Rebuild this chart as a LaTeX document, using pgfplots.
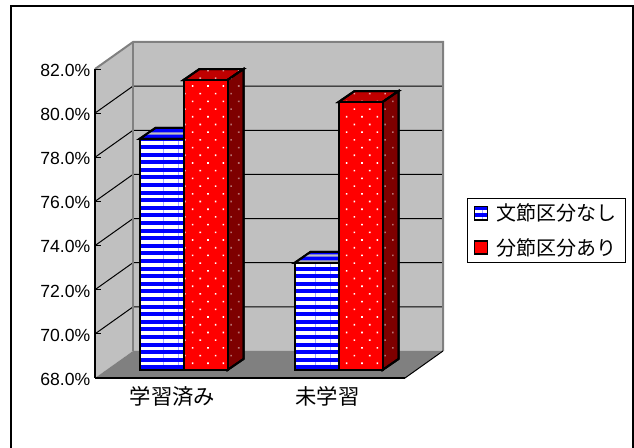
\documentclass[border=0pt]{standalone}
\usepackage{pgfplots}
\pgfplotsset{compat=1.18}
\usepackage{fontspec}
\usetikzlibrary{patterns.meta}
\setmainfont{Liberation Sans}
\newfontfamily\cjk{Noto Sans CJK JP}
\definecolor{wall}{HTML}{C0C0C0}
\definecolor{floorgrey}{HTML}{808080}
\definecolor{topred}{HTML}{C00000}
\definecolor{sidered}{HTML}{7E0000}
\tikzset{
  stripes/.style={preaction={fill=#1},
    pattern={Lines[angle=0,distance=5.7pt,line width=2.8pt,yshift=0.6pt]},pattern color=white},
  topstripes/.style={preaction={fill=#1},
    pattern={Lines[angle=0,distance=4pt,line width=1.8pt]},pattern color=wall},
  dotted face/.style n args={2}{preaction={fill=#1},
    pattern={Dots[radius=0.85pt,distance=8.17pt,angle=45]},pattern color=#2},
  face/.style={draw=black,line width=1.5pt,line join=miter},
}
\begin{document}
\begin{tikzpicture}[x=0.75pt,y=0.75pt]
% page and chart frame, open at the lower edge of the page
\path[use as bounding box] (0,0) rectangle (634,448);
\draw[black,line width=1.1pt] (11,-3) -- (11,442) -- (633,442) -- (633,-3);
% side wall, back wall and floor
\fill[wall] (95,70) -- (95,379) -- (133,406) -- (133,97) -- cycle;
\fill[wall] (133,97) rectangle (443,406);
\fill[floorgrey] (95,70) -- (405,70) -- (443,97) -- (133,97) -- cycle;
% gridlines carried over the walls, 80% down to 70%
\foreach \y in {141.1,185.3,229.4,273.6,317.7,361.9}{
  \draw[black,line width=0.75pt] (95,\y-27) -- (133,\y) -- (443,\y);
}
\draw[floorgrey,line width=1.5pt] (95,379) -- (133,406) -- (443,406) -- (443,97);
\draw[floorgrey,line width=1.2pt] (133,406) -- (133,97);
\draw[black,line width=0.75pt] (405,70) -- (443,97);
\begin{axis}[
  at={(71.25pt,52.5pt)},anchor=south west,
  x=116.25pt,y=16.55pt,
  xmin=-0.5,xmax=1.5,ymin=68,ymax=82,
  clip=false,
  axis x line*=bottom,axis y line*=left,
  axis line style={line width=1.1pt,-},
  xtick={0,1},xticklabels={{\cjk 学習済み},{\cjk 未学習}},
  minor xtick={-0.5,0.5,1.5},
  major tick length=0pt,minor tick length=4.5pt,
  xtick style={draw=none},
  minor tick style={black,line width=0.75pt},
  ytick={68,70,...,82},
  ytick style={black,line width=0.75pt,/pgfplots/major tick length=4.5pt},
  ytick align=inside,
  yticklabel={\pgfmathprintnumber[fixed,fixed zerofill,precision=1,assume math mode=true]{\tick}\%},
  tick label style={font=\fontsize{13.2}{15}\selectfont},
  yticklabel style={yshift=-1pt},
  xticklabel style={font=\fontsize{16}{18}\selectfont,yshift=-2.5pt},
  legend style={at={(1.2,0.5825)},anchor=north west,draw=black,line width=0.75pt,
    font=\fontsize{15}{17}\selectfont,row sep=7.5pt,inner xsep=4.5pt,inner ysep=2pt,
    /tikz/every odd column/.append style={column sep=4.5pt}},
  legend cell align=left,
  every axis plot/.append style={forget plot},
]
% blue series, top face then front face
\addplot[face,topstripes=blue,xshift=8.25pt,yshift=6pt] coordinates {(-0.2839,78.47)(0,78.47)(0.1032,78.97)(-0.1807,78.97)} --cycle;
\addplot[face,topstripes=blue,xshift=8.25pt,yshift=6pt] coordinates {(0.7161,72.85)(1,72.85)(1.1032,73.35)(0.8193,73.35)} --cycle;
\addplot[ybar,bar width=33pt,bar shift=-16.5pt,face,stripes=blue,xshift=8.25pt,yshift=6pt]
  coordinates {(0,78.47)(1,72.85)};
% red series, top and side faces then front face
\addplot[face,dotted face={topred}{white!65!topred},xshift=8.25pt,yshift=6pt] coordinates {(0,81.14)(0.2839,81.14)(0.3871,81.64)(0.1032,81.64)} --cycle;
\addplot[face,dotted face={sidered}{white!45!sidered},xshift=8.25pt,yshift=6pt] coordinates {(0.2839,68)(0.2839,81.14)(0.3871,81.64)(0.3871,68.5)} --cycle;
\addplot[face,dotted face={topred}{white!65!topred},xshift=8.25pt,yshift=6pt] coordinates {(1,80.14)(1.2839,80.14)(1.3871,80.64)(1.1032,80.64)} --cycle;
\addplot[face,dotted face={sidered}{white!45!sidered},xshift=8.25pt,yshift=6pt] coordinates {(1.2839,68)(1.2839,80.14)(1.3871,80.64)(1.3871,68.5)} --cycle;
\addplot[ybar,bar width=33pt,bar shift=16.5pt,face,dotted face={red}{white},xshift=8.25pt,yshift=6pt]
  coordinates {(0,81.14)(1,80.14)};
% legend swatches
\addlegendimage{legend image code/.code={\fill[blue] (0pt,-5pt) rectangle (10pt,5pt); \draw[black,line width=1.1pt,pattern={Lines[angle=0,distance=5.7pt,line width=2.8pt,yshift=0.6pt]},pattern color=white] (0pt,-5pt) rectangle (10pt,5pt);}}
\addlegendentry{\cjk 文節区分なし}
\addlegendimage{legend image code/.code={\draw[black,line width=1.1pt,fill=red] (0pt,-5pt) rectangle (10pt,5pt);}}
\addlegendentry{\cjk 分節区分あり}
\end{axis}
\end{tikzpicture}
\end{document}
